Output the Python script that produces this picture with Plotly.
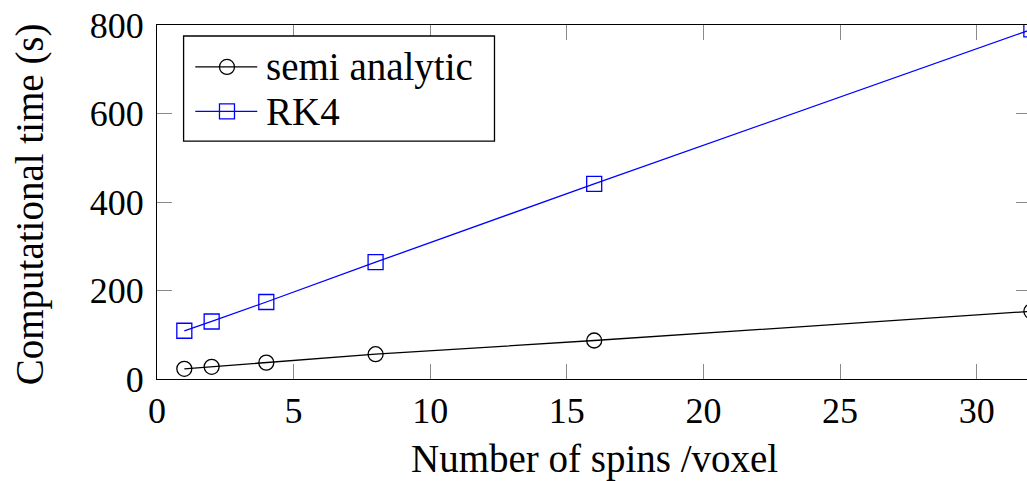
import plotly.graph_objects as go

# Number of spins per voxel
spins = [1, 2, 4, 8, 16, 32]
# Computational time (s)
semi_analytic = [23, 27.5, 37, 56, 87, 153]
rk4 = [109, 130, 174, 264, 441, 790]

x_ticks = [0, 5, 10, 15, 20, 25, 30]
y_ticks = [0, 200, 400, 600, 800]

FONT = "Liberation Serif"
W, H = 1027, 481
ML, MT, MB = 156.7, 24.7, 101.5
PW, PH = W - ML, H - MT - MB

BLUE = "#0000ff"


def px(xp):
    """Horizontal pixel position -> paper coordinate."""
    return (xp - ML) / PW


def py(yp):
    """Vertical pixel position -> paper coordinate."""
    return (H - MB - yp) / PH


fig = go.Figure()
fig.add_trace(go.Scatter(
    x=spins, y=semi_analytic, name="semi analytic", mode="lines+markers",
    line=dict(color="black", width=1.3),
    marker=dict(symbol="circle-open", size=15, color="black", line=dict(width=1.3)),
))
fig.add_trace(go.Scatter(
    x=spins, y=rk4, name="RK4", mode="lines+markers",
    line=dict(color=BLUE, width=1.3),
    marker=dict(symbol="square-open", size=15, color=BLUE, line=dict(width=1.3)),
))
# Invisible trace so the right-hand tick axis is drawn
fig.add_trace(go.Scatter(x=[0], y=[0], yaxis="y2", mode="markers",
                         marker=dict(opacity=0), showlegend=False, hoverinfo="skip"))

axis_common = dict(
    showgrid=False, zeroline=False, showline=True, linecolor="black", linewidth=1.3,
    ticks="inside", ticklen=15, tickwidth=1, tickcolor="#8a8a8a",
    tickfont=dict(family=FONT, size=36, color="black"),
)

# Legend box with line/marker samples
legend_rows = [
    ("semi analytic", "black", "circle", 66.7),
    ("RK4", BLUE, "rect", 111.3),
]
shapes = [dict(type="rect", xref="paper", yref="paper",
               x0=px(183.3), x1=px(494.3), y0=py(141), y1=py(35.7),
               line=dict(color="black", width=1.3), fillcolor="white", layer="above")]
annotations = []
for label, color, kind, yc in legend_rows:
    shapes.append(dict(type="line", xref="paper", yref="paper",
                       x0=px(195), x1=px(257), y0=py(yc), y1=py(yc),
                       line=dict(color=color, width=1.3), layer="above"))
    shapes.append(dict(type=kind, xref="paper", yref="paper",
                       xsizemode="pixel", ysizemode="pixel",
                       xanchor=px(226.7), yanchor=py(yc),
                       x0=-7.5, x1=7.5, y0=-7.5, y1=7.5,
                       line=dict(color=color, width=1.3), layer="above"))
    annotations.append(dict(text=label, xref="paper", yref="paper",
                            x=px(264), y=py(yc), xanchor="left", yanchor="middle",
                            showarrow=False,
                            font=dict(family=FONT, size=39, color="black")))

annotations += [
    dict(text="Number of spins /voxel", xref="paper", yref="paper",
         x=px(594), y=py(460), xanchor="center", yanchor="middle", showarrow=False,
         font=dict(family=FONT, size=39, color="black")),
    dict(text="Computational time (s)", xref="paper", yref="paper",
         x=px(30), y=py(204), xanchor="center", yanchor="middle", showarrow=False,
         textangle=-90, font=dict(family=FONT, size=39, color="black")),
]

fig.update_layout(
    width=W, height=H,
    margin=dict(l=ML, r=0, t=MT, b=MB, pad=0),
    paper_bgcolor="white", plot_bgcolor="white",
    font=dict(family=FONT, size=36, color="black"),
    showlegend=False,
    xaxis=dict(range=[0, 31.84], tickvals=x_ticks, mirror="ticks", **axis_common),
    yaxis=dict(range=[0, 800], tickvals=y_ticks, mirror=False, ticklabelstandoff=5,
               **axis_common),
    yaxis2=dict(range=[0, 800], tickvals=y_ticks, overlaying="y", side="right",
                showticklabels=False, showgrid=False, zeroline=False, showline=False,
                ticks="inside", ticklen=11, tickwidth=1, tickcolor="#8a8a8a"),
    shapes=shapes,
    annotations=annotations,
)

fig.write_html("out.html")
